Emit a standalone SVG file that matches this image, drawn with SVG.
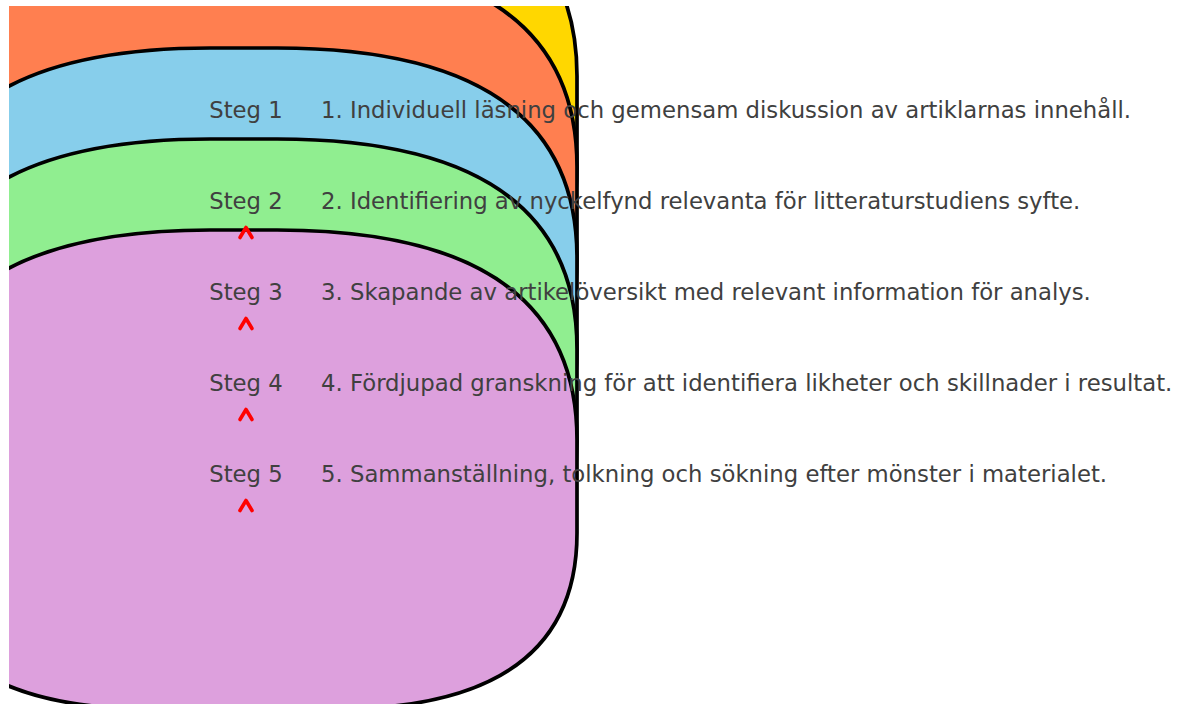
<svg xmlns="http://www.w3.org/2000/svg" xmlns:xlink="http://www.w3.org/1999/xlink" width="1181" height="704" viewBox="0 0 1181 704">
<style>
.box{stroke:#000;stroke-width:3.7;stroke-linejoin:round}
.lbl{font-family:"DejaVu Sans","Liberation Sans",sans-serif;font-size:22.75px;fill:#404040}
.arr{fill:none;stroke:#ff0000;stroke-width:3.6;stroke-linecap:round;stroke-linejoin:round}
</style>
<defs>
<clipPath id="ax"><rect x="9" y="6" width="1172" height="698"/></clipPath>
<path id="box" d="M210,0 L277,0 Q577,0 577,210 L577,303 Q577,479 335,479 L152,479 Q-90,479 -90,303 L-90,210 Q-90,0 210,0 Z"/>
</defs>
<rect width="1181" height="704" fill="#fff"/>
<g clip-path="url(#ax)">
<g id="layer-yellow"><use xlink:href="#box" class="box" fill="#FFD700" transform="translate(0,-134)"/></g>
<g id="layer-orange"><use xlink:href="#box" class="box" fill="#FF7F50" transform="translate(0,-43)"/></g>
<g id="layer-blue"><use xlink:href="#box" class="box" fill="#87CEEB" transform="translate(0,48)"/></g>
<g id="layer-green"><use xlink:href="#box" class="box" fill="#90EE90" transform="translate(0,139)"/></g>
<g id="layer-purple"><use xlink:href="#box" class="box" fill="#DDA0DD" transform="translate(0,230)"/></g>
</g>
<g id="connectors">
<path class="arr" d="M240,237.5 L246,227.5 L252,237.5"/>
<path class="arr" d="M240,328.5 L246,318.5 L252,328.5"/>
<path class="arr" d="M240,419.5 L246,409.5 L252,419.5"/>
<path class="arr" d="M240,510.5 L246,500.5 L252,510.5"/>
</g>
<g id="step-1"><text class="lbl" x="246" y="117.5" text-anchor="middle">Steg 1</text><text class="lbl" x="321" y="117.5">1. Individuell läsning och gemensam diskussion av artiklarnas innehåll.</text></g>
<g id="step-2"><text class="lbl" x="246" y="208.5" text-anchor="middle">Steg 2</text><text class="lbl" x="321" y="208.5">2. Identifiering av nyckelfynd relevanta för litteraturstudiens syfte.</text></g>
<g id="step-3"><text class="lbl" x="246" y="299.5" text-anchor="middle">Steg 3</text><text class="lbl" x="321" y="299.5">3. Skapande av artikelöversikt med relevant information för analys.</text></g>
<g id="step-4"><text class="lbl" x="246" y="390.5" text-anchor="middle">Steg 4</text><text class="lbl" x="321" y="390.5">4. Fördjupad granskning för att identifiera likheter och skillnader i resultat.</text></g>
<g id="step-5"><text class="lbl" x="246" y="481.5" text-anchor="middle">Steg 5</text><text class="lbl" x="321" y="481.5">5. Sammanställning, tolkning och sökning efter mönster i materialet.</text></g>
</svg>
